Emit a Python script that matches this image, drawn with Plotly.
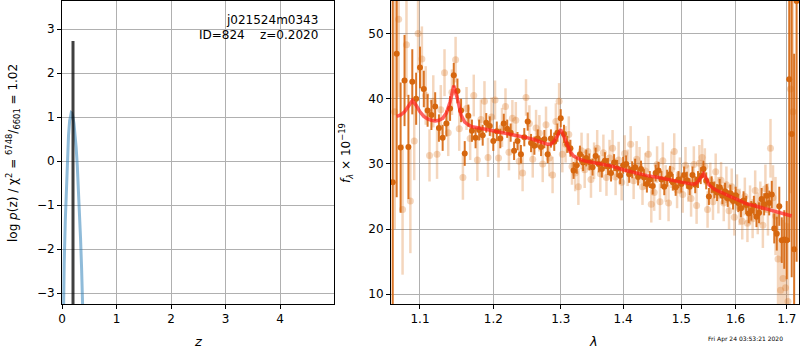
import numpy as np
import plotly.graph_objects as go

# ---------------- left panel: log p(z) ----------------
z_grid = [0.00, 0.02, 0.04, 0.06, 0.08, 0.10, 0.12, 0.14, 0.16, 0.17, 0.18, 0.20,
          0.22, 0.24, 0.26, 0.28, 0.30, 0.32, 0.34, 0.36, 0.38, 0.40, 0.45]
logpz = [-6.0, -3.48, -2.34, -1.37, -0.55, 0.10, 0.59, 0.92, 1.08, 1.10, 1.09, 1.01,
         0.85, 0.62, 0.30, -0.09, -0.57, -1.12, -1.75, -2.46, -3.25, -4.1, -6.5]
z_best = 0.202
z_best_top = 2.73

# ---------------- right panel: spectrum ----------------
wave_a = [1.065, 1.070, 1.075, 1.080, 1.085, 1.090, 1.095, 1.100, 1.105, 1.110,
          1.115, 1.120, 1.125, 1.130, 1.135, 1.140, 1.145, 1.150, 1.155, 1.160,
          1.165, 1.170, 1.175, 1.180, 1.185, 1.190, 1.195, 1.200, 1.205, 1.210,
          1.215, 1.220, 1.225, 1.230, 1.235, 1.240, 1.245, 1.250, 1.255, 1.260,
          1.265, 1.270, 1.275, 1.280, 1.285, 1.290, 1.295, 1.300, 1.305, 1.310,
          1.315, 1.320, 1.325, 1.330, 1.335, 1.340, 1.345, 1.350, 1.355, 1.360,
          1.365, 1.370, 1.375, 1.380, 1.385, 1.390, 1.395, 1.400, 1.405, 1.410,
          1.415, 1.420, 1.425, 1.430, 1.435, 1.440, 1.445, 1.450, 1.455, 1.460,
          1.465, 1.470, 1.475, 1.480, 1.485, 1.490, 1.495, 1.500, 1.505, 1.510,
          1.515, 1.520, 1.525, 1.530, 1.535, 1.540, 1.545, 1.550, 1.555, 1.560,
          1.565, 1.570, 1.575, 1.580, 1.585, 1.590, 1.595, 1.600, 1.605, 1.610,
          1.615, 1.620, 1.625, 1.630, 1.635, 1.640, 1.645, 1.650, 1.655, 1.660,
          1.665, 1.670, 1.675, 1.680, 1.685, 1.690, 1.695, 1.700, 1.705, 1.710,
          1.715, 1.720]
flux_a = [27.2, 46.9, 32.5, 42.8, 32.6, 42.6, 40.0, 44.8, 41.5, 38.2,
          37.5, 38.8, 35.5, 34.0, 36.2, 38.5, 43.6, 41.2, 38.2, 31.6,
          37.4, 35.1, 34.0, 35.2, 34.4, 36.3, 35.8, 33.5, 35.0, 33.9,
          36.2, 35.4, 34.8, 32.0, 33.5, 31.5, 34.1, 36.5, 33.2, 32.8,
          33.9, 32.6, 33.8, 31.5, 33.9, 33.4, 34.8, 37.0, 34.6, 33.0,
          32.4, 29.0, 29.8, 31.5, 30.2, 30.9, 30.3, 29.5, 31.2, 30.0,
          29.2, 30.5, 29.6, 28.6, 30.2, 29.3, 28.2, 29.8, 30.0, 28.4,
          29.1, 29.5, 28.0, 29.2, 27.9, 26.9, 27.6, 26.6, 28.6, 29.0,
          27.6, 26.5, 27.8, 28.4, 27.2, 26.4, 27.6, 26.9, 28.3, 27.5,
          26.5, 28.3, 26.8, 27.6, 28.2, 29.2, 27.4, 25.0, 26.8, 26.0,
          25.6, 26.4, 25.1, 25.8, 24.7, 25.5, 24.3, 25.2, 24.0, 23.2,
          24.4, 23.7, 22.4, 22.8, 23.6, 21.9, 22.5, 24.6, 23.8, 25.1,
          24.0, 25.3, 20.1, 19.3, 23.5, 18.3, 18.4, 18.3, 43.0, 34.6,
          16.9, 55.0]
err_a = [30, 22, 10, 7, 8, 5, 4, 3.2, 2.8, 2.5,
         2.3, 2.2, 2.1, 2.0, 2.0, 1.9, 1.9, 1.9, 1.8, 1.9,
         1.7, 1.7, 1.6, 1.6, 1.6, 1.5, 1.5, 1.5, 1.5, 1.5,
         1.5, 1.4, 1.4, 1.4, 1.4, 1.4, 1.4, 1.4, 1.4, 1.4,
         1.4, 1.4, 1.4, 1.4, 1.4, 1.4, 1.4, 1.4, 1.4, 1.3,
         1.3, 1.3, 1.3, 1.3, 1.3, 1.3, 1.3, 1.3, 1.3, 1.3,
         1.3, 1.3, 1.3, 1.3, 1.3, 1.3, 1.3, 1.3, 1.3, 1.3,
         1.3, 1.3, 1.3, 1.3, 1.3, 1.3, 1.3, 1.3, 1.3, 1.3,
         1.3, 1.3, 1.3, 1.3, 1.3, 1.3, 1.3, 1.3, 1.3, 1.3,
         1.3, 1.3, 1.3, 1.3, 1.3, 1.3, 1.3, 1.3, 1.3, 1.3,
         1.3, 1.3, 1.3, 1.3, 1.3, 1.3, 1.3, 1.3, 1.4, 1.4,
         1.4, 1.4, 1.5, 1.5, 1.5, 1.6, 1.6, 1.7, 1.7, 1.8,
         1.9, 2.1, 2.3, 2.6, 3.0, 3.5, 4.5, 6.0, 25, 22,
         30, 40]

wave_b = [1.0675, 1.0725, 1.0775, 1.0825, 1.0875, 1.0925, 1.0975, 1.1025, 1.1075, 1.1125,
          1.1175, 1.1225, 1.1275, 1.1325, 1.1375, 1.1425, 1.1475, 1.1525, 1.1575, 1.1625,
          1.1675, 1.1725, 1.1775, 1.1825, 1.1875, 1.1925, 1.1975, 1.2025, 1.2075, 1.2125,
          1.2175, 1.2225, 1.2275, 1.2325, 1.2375, 1.2425, 1.2475, 1.2525, 1.2575, 1.2625,
          1.2675, 1.2725, 1.2775, 1.2825, 1.2875, 1.2925, 1.2975, 1.3025, 1.3075, 1.3125,
          1.3175, 1.3225, 1.3275, 1.3325, 1.3375, 1.3425, 1.3475, 1.3525, 1.3575, 1.3625,
          1.3675, 1.3725, 1.3775, 1.3825, 1.3875, 1.3925, 1.3975, 1.4025, 1.4075, 1.4125,
          1.4175, 1.4225, 1.4275, 1.4325, 1.4375, 1.4425, 1.4475, 1.4525, 1.4575, 1.4625,
          1.4675, 1.4725, 1.4775, 1.4825, 1.4875, 1.4925, 1.4975, 1.5025, 1.5075, 1.5125,
          1.5175, 1.5225, 1.5275, 1.5325, 1.5375, 1.5425, 1.5475, 1.5525, 1.5575, 1.5625,
          1.5675, 1.5725, 1.5775, 1.5825, 1.5875, 1.5925, 1.5975, 1.6025, 1.6075, 1.6125,
          1.6175, 1.6225, 1.6275, 1.6325, 1.6375, 1.6425, 1.6475, 1.6525, 1.6575, 1.6625,
          1.6675, 1.6725, 1.6775, 1.6825, 1.6875, 1.6925, 1.6975, 1.7025, 1.7075, 1.7125]
flux_b = [38.0, 52.2, 23.0, 48.3, 24.3, 33.5, 50.0, 46.1, 40.5, 31.3,
          39.6, 31.5, 38.3, 44.0, 34.8, 41.0, 46.0, 35.4, 27.9, 38.5,
          33.9, 40.5, 30.6, 36.8, 39.6, 31.0, 37.2, 39.8, 30.9, 35.6,
          38.8, 31.8, 37.0, 36.7, 30.4, 28.6, 40.2, 36.2, 30.7, 35.5,
          34.7, 30.0, 36.0, 30.9, 28.3, 36.5, 39.6, 31.5, 33.0, 34.5,
          29.6, 28.6, 26.5, 32.0, 29.1, 31.9, 27.6, 30.5, 32.4, 28.5,
          31.7, 27.9, 30.9, 32.4, 28.0, 30.6, 27.2, 31.6, 29.4, 33.0,
          27.4, 30.7, 29.8, 26.5, 28.9, 31.5, 23.8, 25.6, 29.9, 24.2,
          30.5, 27.0, 24.0, 29.1, 31.9, 26.0, 28.2, 25.3, 29.8, 27.0,
          24.7, 29.9, 23.6, 30.1, 31.0, 29.6, 23.0, 27.4, 24.2, 28.8,
          25.2, 27.5, 24.0, 26.8, 22.8, 26.5, 21.8, 25.6, 23.4, 21.2,
          25.0, 20.9, 23.7, 21.6, 25.9, 22.4, 24.0, 20.6, 26.2, 23.0,
          32.4, 24.8, 22.0, 15.4, 10.6, 12.4, 11.0, 8.9, 41.5, 38.0]
err_b = [18, 12, 10, 8, 8, 6, 6, 5, 4.5, 4,
         4, 3.8, 3.8, 3.6, 3.6, 3.5, 3.5, 3.4, 3.4, 3.3,
         3.3, 3.2, 3.2, 3.1, 3.1, 3.0, 3.0, 3.0, 3.0, 3.0,
         2.8, 2.8, 2.8, 2.8, 2.8, 2.8, 2.8, 2.8, 2.8, 2.8,
         2.8, 2.8, 2.8, 2.8, 2.8, 2.8, 2.8, 2.8, 2.8, 2.8,
         2.8, 2.8, 2.8, 2.8, 2.8, 2.8, 2.8, 2.8, 2.8, 2.8,
         2.8, 2.8, 2.8, 2.8, 2.8, 2.8, 2.8, 2.8, 2.8, 2.8,
         2.8, 2.8, 2.8, 2.8, 2.8, 2.8, 2.8, 2.8, 2.8, 2.8,
         2.8, 2.8, 2.8, 2.8, 2.8, 2.8, 2.8, 2.8, 2.8, 2.8,
         2.8, 2.8, 2.8, 2.8, 2.8, 2.8, 2.8, 2.8, 2.8, 2.8,
         2.8, 2.8, 2.8, 2.8, 2.8, 2.8, 2.8, 2.8, 2.8, 2.8,
         2.9, 2.9, 3.0, 3.0, 3.1, 3.2, 3.3, 3.5, 3.7, 4.0,
         4.5, 5.0, 6.0, 7.0, 8.0, 9.0, 10, 12, 16, 18]

wave_model = [1.070, 1.075, 1.080, 1.085, 1.090, 1.095, 1.100, 1.105, 1.110, 1.115,
              1.120, 1.125, 1.130, 1.135, 1.140, 1.145, 1.150, 1.155, 1.160, 1.165,
              1.170, 1.180, 1.190, 1.200, 1.210, 1.220, 1.230, 1.240, 1.250, 1.260,
              1.270, 1.280, 1.285, 1.290, 1.295, 1.300, 1.305, 1.310, 1.315, 1.320,
              1.330, 1.340, 1.350, 1.360, 1.380, 1.400, 1.420, 1.440, 1.460, 1.480,
              1.500, 1.520, 1.525, 1.530, 1.535, 1.540, 1.545, 1.550, 1.560, 1.580,
              1.600, 1.620, 1.640, 1.660, 1.680, 1.700, 1.710]
flux_model = [37.3, 37.5, 38.0, 38.8, 39.7, 39.0, 38.0, 37.3, 36.9, 36.7,
              36.6, 36.7, 37.0, 37.8, 39.5, 42.0, 40.0, 37.5, 36.4, 36.0,
              35.7, 35.5, 35.3, 35.1, 34.9, 34.7, 34.5, 34.2, 34.0, 33.7,
              33.3, 33.0, 33.0, 33.5, 34.3, 35.3, 34.2, 32.8, 31.8, 31.2,
              30.7, 30.4, 30.2, 30.0, 29.7, 29.1, 28.6, 28.2, 27.9, 27.5,
              27.2, 26.9, 26.9, 27.3, 27.8, 28.5, 27.8, 26.8, 26.1, 25.4,
              24.7, 23.9, 23.5, 23.1, 22.6, 22.3, 22.0]

lam_ticks = [1.1, 1.2, 1.3, 1.4, 1.5, 1.6, 1.7]

FONT = "DejaVu Sans, Liberation Sans, sans-serif"
W, H = 800, 350
dark = "rgb(214,102,14)"
light = "rgba(214,106,18,0.28)"

fig = go.Figure()

fig.add_trace(go.Scatter(x=z_grid, y=logpz, mode="lines",
                         line=dict(color="rgba(31,119,180,0.5)", width=3),
                         xaxis="x", yaxis="y", showlegend=False))
fig.add_trace(go.Scatter(x=[z_best, z_best], y=[-3.25, z_best_top], mode="lines",
                         line=dict(color="rgba(0,0,0,0.75)", width=3),
                         xaxis="x", yaxis="y", showlegend=False))

fig.add_trace(go.Scatter(x=wave_b, y=flux_b, mode="markers",
                         marker=dict(color=light, size=7, line=dict(width=0)),
                         error_y=dict(type="data", array=err_b, color=light,
                                      thickness=2.5, width=0),
                         xaxis="x2", yaxis="y2", showlegend=False))
fig.add_trace(go.Scatter(x=wave_a, y=flux_a, mode="markers",
                         marker=dict(color=dark, size=6, line=dict(width=0)),
                         error_y=dict(type="data", array=err_a, color="rgba(214,102,14,0.9)",
                                      thickness=2, width=0),
                         xaxis="x2", yaxis="y2", showlegend=False))
fig.add_trace(go.Scatter(x=wave_model, y=flux_model, mode="lines",
                         line=dict(color="rgba(255,30,30,0.7)", width=3.5),
                         xaxis="x2", yaxis="y2", showlegend=False))

y_dom = [1 - 304 / H, 1 - 1 / H]
axis_common = dict(showline=True, linecolor="black", linewidth=1, mirror=True,
                   ticks="outside", ticklen=4, tickcolor="black",
                   showgrid=True, gridcolor="#b0b0b0", gridwidth=1,
                   zeroline=False, tickfont=dict(family=FONT, size=12, color="black"),
                   automargin=False)

fig.update_layout(
    width=W, height=H,
    margin=dict(l=0, r=0, t=0, b=0),
    paper_bgcolor="white", plot_bgcolor="white",
    font=dict(family=FONT, color="black"),
    xaxis=dict(domain=[62 / W, 334 / W], range=[0, 4.99],
               tickvals=[0, 1, 2, 3, 4], anchor="y", **axis_common),
    yaxis=dict(domain=y_dom, range=[-3.25, 3.64],
               tickvals=[-3, -2, -1, 0, 1, 2, 3],
               ticktext=["\u22123", "\u22122", "\u22121", "0", "1", "2", "3"],
               anchor="x", **axis_common),
    xaxis2=dict(domain=[391 / W, 799 / W], type="log",
                range=[np.log10(1.0628), np.log10(1.7249)],
                tickvals=lam_ticks, ticktext=[str(v) for v in lam_ticks],
                anchor="y2", **axis_common),
    yaxis2=dict(domain=y_dom, range=[8.5, 55.0],
                tickvals=[10, 20, 30, 40, 50], anchor="x2", **axis_common),
)

ann = []
ann.append(dict(x=320 / W, y=1 - 20 / H, xref="paper", yref="paper", xanchor="right",
                yanchor="middle", showarrow=False, text="j021524m0343",
                font=dict(family=FONT, size=12, color="black")))
ann.append(dict(x=320 / W, y=1 - 35 / H, xref="paper", yref="paper", xanchor="right",
                yanchor="middle", showarrow=False, text="ID=824    z=0.2020",
                font=dict(family=FONT, size=12, color="black")))
ann.append(dict(x=198 / W, y=1 - 341 / H, xref="paper", yref="paper", xanchor="center",
                yanchor="middle", showarrow=False, text="<i>z</i>",
                font=dict(family=FONT, size=13, color="black")))
ann.append(dict(x=593 / W, y=1 - 341 / H, xref="paper", yref="paper", xanchor="center",
                yanchor="middle", showarrow=False, text="<i>λ</i>",
                font=dict(family=FONT, size=13, color="black")))
ann.append(dict(x=13 / W, y=1 - 153 / H, xref="paper", yref="paper", xanchor="center",
                yanchor="middle", showarrow=False, textangle=-90,
                text="log <i>p</i>(z) / χ<sup>2</sup> = <sup>6748</sup>/<sub>6601</sub> = 1.02",
                font=dict(family=FONT, size=12, color="black")))
ann.append(dict(x=346 / W, y=1 - 153 / H, xref="paper", yref="paper", xanchor="center",
                yanchor="middle", showarrow=False, textangle=-90,
                text="<i>f</i><sub><i>λ</i></sub> × 10<sup>\u221219</sup>",
                font=dict(family=FONT, size=12, color="black")))
ann.append(dict(x=745 / W, y=1 - 339 / H, xref="paper", yref="paper", xanchor="center",
                yanchor="middle", showarrow=False, text="Fri Apr 24 03:53:21 2020",
                font=dict(family=FONT, size=6, color="black")))
fig.update_layout(annotations=ann)

fig.write_html("out.html", config={"displayModeBar": False},
               post_script="document.body.style.margin='0px';document.body.style.overflow='hidden';")
